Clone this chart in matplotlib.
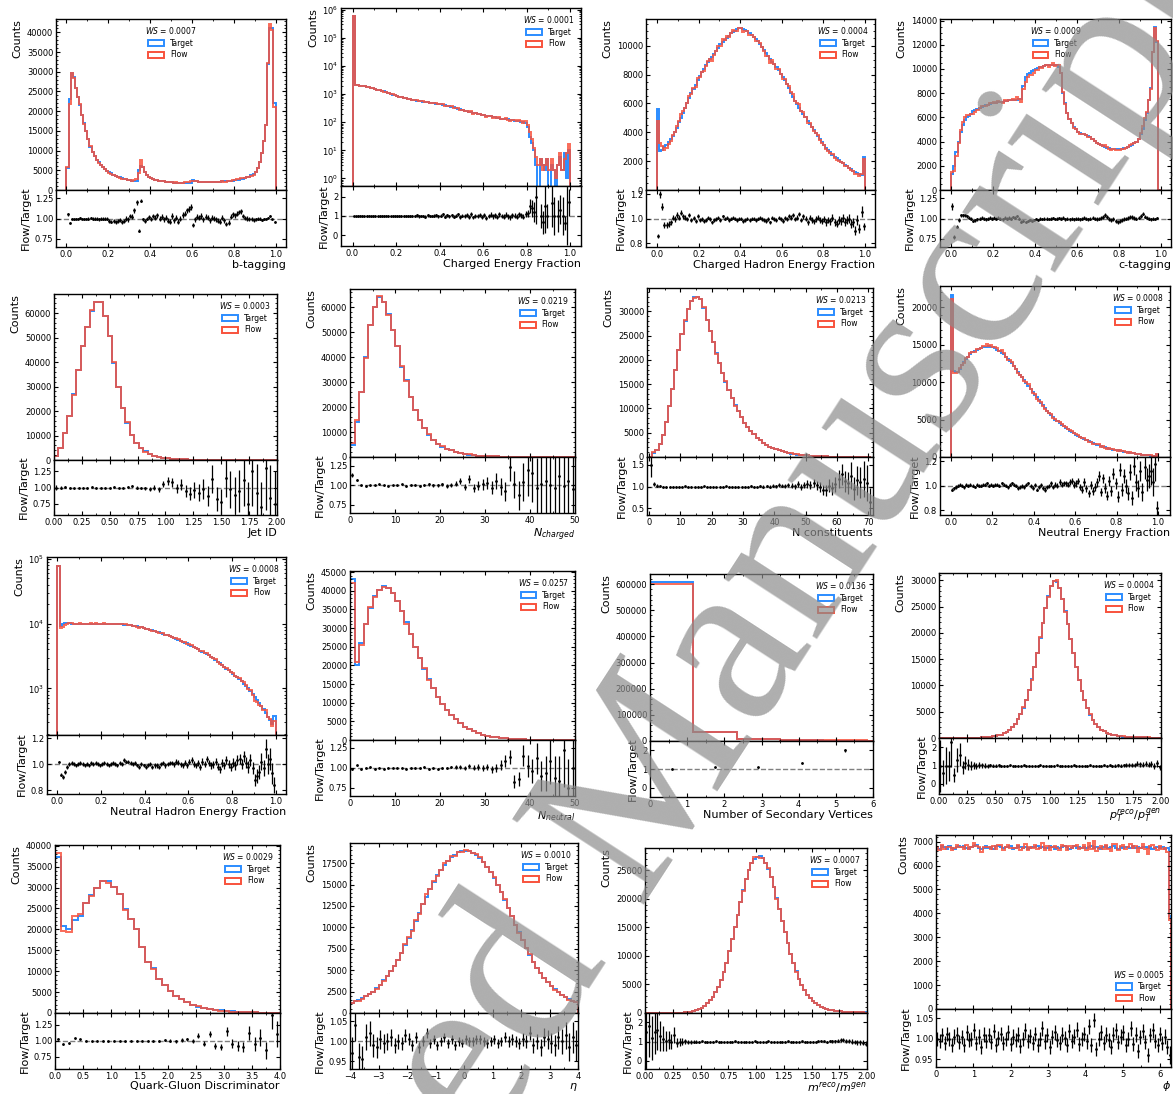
import numpy as np
import matplotlib
matplotlib.use('Agg')
import matplotlib.pyplot as plt
from matplotlib.patches import Patch
from matplotlib.ticker import MultipleLocator, FormatStrFormatter, AutoMinorLocator

W, H = 1173, 1094
BLUE = '#2b8cff'
RED = '#f8523c'

# ---------------- data ----------------
# b-tagging, counts in thousands
btag_target = [5.5, 23, 29.6, 28.8, 26, 23.5, 21.5, 19, 17, 15,
               13, 11, 9.7, 8.6, 7.7, 7.0, 6.3, 5.8, 5.3, 4.9,
               4.5, 4.2, 3.9, 3.6, 3.4, 3.2, 3.0, 2.8, 2.7, 2.55,
               2.45, 2.35, 2.3, 2.3, 5.0, 6.2, 5.8, 4.6, 3.8, 3.3,
               3.0, 2.8, 2.6, 2.5, 2.4, 2.3, 2.2, 2.1, 2.05, 2.0,
               1.95, 1.9, 1.9, 1.85, 1.85, 1.8, 1.8, 1.8, 1.85, 1.9,
               2.5, 2.4, 2.2, 2.1, 2.05, 2.0, 2.0, 2.0, 2.0, 2.05,
               2.05, 2.1, 2.1, 2.15, 2.2, 2.2, 2.25, 2.3, 2.35, 2.4,
               2.5, 2.55, 2.65, 2.75, 2.9, 3.0, 3.2, 3.4, 3.7, 4.0,
               4.6, 5.5, 7.0, 9.5, 12.5, 16.5, 32, 41, 41, 22]
btag_ratio = [105, 95, 100, 99, 100, 100, 101, 100, 99, 100,
              100, 101, 100, 100, 100, 99, 100, 100, 100, 100,
              97, 96, 97, 96, 97, 98, 96, 97, 100, 99,
              103, 102, 110, 120, 85, 122, 99, 97, 100, 102,
              99, 103, 101, 104, 100, 102, 99, 101, 97, 96,
              103, 98, 101, 96, 100, 104, 106, 110, 112, 114,
              92, 99, 102, 101, 103, 99, 102, 101, 98, 101,
              100, 99, 97, 96, 101, 98, 93, 95, 102, 105,
              104, 106, 108, 109, 103, 101, 100, 99, 99, 98,
              99, 100, 100, 98, 99, 100, 101, 103, 99, 96]

cef_target = [600000, 2100, 2050, 2000, 1950, 1900, 1850, 1780, 1700, 1620,
              1500, 1430, 1380, 1300, 1240, 1150, 1100, 1030, 960, 900,
              850, 800, 780, 740, 700, 680, 650, 630, 610, 590,
              580, 560, 540, 520, 510, 500, 480, 470, 450, 440,
              430, 410, 400, 380, 370, 360, 340, 320, 300, 290,
              275, 260, 250, 240, 225, 210, 215, 200, 190, 185,
              180, 170, 165, 160, 150, 150, 145, 140, 135, 130,
              130, 125, 120, 120, 115, 110, 108, 105, 100, 95,
              70, 30, 18, 10, 3, 0, 5, 3, 2, 5,
              0, 3, 2, 0, 3, 6, 2, 8, 1, 10]
cef_ratio = [100, 99, 100, 101, 100, 99, 100, 101, 99, 100,
             100, 98, 101, 100, 99, 102, 100, 98, 101, 99,
             100, 101, 99, 100, 102, 98, 101, 100, 99, 103,
             98, 100, 101, 97, 103, 100, 99, 102, 104, 98,
             101, 110, 96, 103, 99, 105, 97, 101, 108, 95,
             102, 99, 104, 96, 108, 93, 101, 99, 106, 97,
             104, 92, 100, 107, 98, 103, 95, 109, 100, 97,
             106, 99, 94, 104, 101, 97, 108, 103, 96, 112]
cef_flow_tail = [80, 45, 25, 12, 6, 3, 5, 2, 3, 5,
                 2, 5, 2, 1, 3, 8, 2, 5, 8, 17]

chef_target = [5600, 2700, 2800, 2950, 3100, 3300, 3500, 3750, 4000, 4300,
               4700, 5000, 5350, 5650, 6000, 6350, 6700, 7000, 7300, 7600,
               7900, 8150, 8400, 8650, 8850, 9050, 9250, 9450, 9650, 9850,
               10100, 10250, 10400, 10550, 10700, 10850, 10950, 11050, 11150, 11200,
               11200, 11150, 11100, 11000, 10850, 10750, 10600, 10450, 10300, 10100,
               9900, 9700, 9500, 9300, 9100, 8900, 8700, 8500, 8300, 8050,
               7850, 7600, 7350, 7050, 6750, 6450, 6200, 5950, 5700, 5500,
               5300, 5050, 4800, 4600, 4400, 4150, 3950, 3750, 3500, 3300,
               3100, 2900, 2750, 2600, 2450, 2300, 2200, 2050, 1950, 1850,
               1750, 1650, 1550, 1450, 1350, 1250, 1150, 1080, 1020, 2300]
chef_ratio = [86, 120, 110, 95, 95, 96, 97, 101, 100, 103,
              101, 105, 102, 101, 100, 103, 99, 101, 98, 102,
              99, 100, 98, 99, 101, 100, 97, 99, 100, 101,
              99, 102, 100, 101, 99, 100, 101, 100, 99, 100,
              100, 98, 99, 100, 99, 100, 100, 99, 100, 101,
              100, 99, 98, 100, 97, 101, 100, 99, 101, 100,
              98, 101, 100, 102, 101, 103, 100, 101, 104, 99,
              102, 100, 97, 101, 99, 98, 100, 101, 99, 98,
              100, 97, 99, 98, 101, 97, 96, 99, 98, 101,
              97, 99, 100, 96, 97, 90, 99, 92, 106, 94]

ctag_target = [1300, 2000, 3100, 4000, 4800, 5400, 5800, 6000, 6150, 6300,
               6500, 6600, 6700, 6800, 6850, 6900, 7000, 7050, 7100, 7150,
               7200, 7200, 7250, 7300, 7300, 7350, 7350, 7400, 7400, 7400,
               7400, 7450, 7500, 7550, 8600, 9300, 9600, 9700, 9800, 9900,
               10000, 10100, 10150, 10200, 10250, 10300, 10300, 10350, 10350, 10350,
               10300, 10200, 9700, 8000, 7200, 6400, 5900, 5500, 5200, 5000,
               4800, 4700, 4650, 4600, 4550, 4450, 4350, 4200, 4050, 3900,
               3800, 3700, 3600, 3550, 3500, 3450, 3400, 3400, 3400, 3400,
               3400, 3420, 3450, 3500, 3550, 3650, 3750, 3850, 4000, 4200,
               4600, 5000, 5800, 6400, 7400, 8400, 11400, 13500, 12200, 0]
ctag_ratio = [115, 77, 90, 98, 104, 104, 104, 103, 101, 100,
              97, 98, 99, 100, 101, 100, 99, 100, 101, 100,
              101, 100, 101, 100, 99, 101, 100, 101, 100, 102,
              101, 103, 100, 96, 97, 96, 97, 98, 97, 98,
              99, 98, 100, 99, 100, 100, 99, 100, 101, 99,
              100, 101, 100, 101, 99, 100, 99, 100, 99, 100,
              100, 99, 100, 101, 100, 99, 100, 101, 100, 99,
              100, 101, 102, 104, 102, 99, 98, 99, 97, 96,
              97, 98, 99, 100, 101, 102, 102, 101, 100, 101,
              103, 106, 102, 101, 100, 99, 100, 99, 101, 100]

jetid_target = [1600, 5000, 11000, 18000, 27000, 36800, 46400, 54300, 60700, 64400,
                64400, 59000, 50700, 39800, 29700, 21100, 15300, 10100, 7000, 4800,
                3500, 2500, 1800, 1300, 950, 700, 500, 380, 290, 220,
                170, 130, 100, 80, 65, 52, 42, 35, 28, 24,
                20, 17, 14, 12, 10, 9, 8, 7, 6, 5]
jetid_ratio = [100, 100, 101, 100, 99, 100, 100, 100, 101, 100,
               100, 100, 100, 101, 100, 100, 101, 102, 100, 99,
               99, 98, 100, 97, 105, 110, 108, 99, 104, 95,
               90, 96, 92, 97, 87, 113, 82, 78, 115, 97,
               88, 95, 112, 75, 125, 92, 70, 130, 84, 75]

nch_target = [5000, 14000, 26000, 40000, 53000, 60000, 64000, 62000, 57500, 51000,
              44500, 36000, 31000, 24000, 19000, 15000, 11500, 9000, 7000, 5300,
              4200, 3400, 2700, 2100, 1700, 1300, 1000, 780, 600, 470,
              360, 280, 210, 160, 120, 90, 65, 48, 35, 25,
              18, 13, 9, 7, 5, 4, 3, 2, 2, 1]
nch_ratio = [113, 107, 100, 99, 100, 100, 101, 100, 99, 100,
             100, 101, 99, 100, 100, 99, 100, 101, 100, 100,
             101, 99, 100, 102, 105, 98, 108, 96, 99, 101,
             103, 97, 105, 98, 92, 123, 101, 87, 104, 119,
             115, 97, 102, 105, 100, 97, 112, 99, 105, 95]

ncon_target = [50, 900, 1400, 2600, 4500, 7300, 10400, 14000, 18000, 22000,
               25300, 28000, 30500, 32200, 33000, 33000, 32500, 30600, 28300, 26000,
               23700, 21400, 19300, 17300, 15400, 13700, 12100, 10700, 9400, 8200,
               7100, 6200, 5400, 4650, 4000, 3450, 2950, 2500, 2150, 1850,
               1580, 1350, 1150, 980, 840, 710, 600, 510, 430, 365,
               310, 262, 222, 188, 160, 135, 114, 97, 82, 70,
               59, 50, 42, 36, 30, 26, 22, 18, 15, 13,
               11]
ncon_ratio = [150, 105, 102, 101, 100, 99, 100, 100, 100, 100,
              100, 101, 100, 100, 99, 100, 100, 101, 100, 100,
              100, 99, 100, 100, 101, 100, 100, 99, 100, 100,
              100, 100, 101, 100, 100, 101, 100, 101, 100, 102,
              101, 103, 102, 101, 104, 102, 101, 105, 99, 103,
              106, 104, 108, 103, 99, 93, 91, 102, 96, 105,
              118, 128, 112, 108, 125, 95, 114, 110, 118, 108,
              65]

nef_target = [21700, 11500, 11300, 11400, 11800, 12300, 12700, 13100, 13400, 13700,
              14000, 14200, 14300, 14450, 14550, 14650, 14700, 14750, 14800, 14750,
              14650, 14500, 14350, 14150, 13950, 13700, 13400, 13100, 12800, 12500,
              12100, 11750, 11400, 11000, 10650, 10300, 9900, 9500, 9100, 8700,
              8300, 7950, 7600, 7250, 6900, 6550, 6200, 5900, 5600, 5300,
              5000, 4750, 4500, 4300, 4100, 3900, 3700, 3500, 3350, 3150,
              3000, 2850, 2700, 2550, 2400, 2250, 2100, 1980, 1870, 1760,
              1650, 1550, 1450, 1370, 1280, 1200, 1130, 1060, 1000, 940,
              880, 820, 770, 720, 670, 620, 570, 520, 480, 440,
              400, 360, 320, 280, 250, 220, 190, 160, 130, 450]
nef_ratio = [97, 98, 99, 100, 101, 100, 99, 101, 100, 101,
             100, 99, 101, 100, 100, 101, 101, 102, 100, 101,
             100, 101, 101, 100, 102, 101, 100, 99, 101, 102,
             101, 100, 98, 99, 100, 99, 101, 102, 100, 98,
             101, 97, 99, 101, 98, 97, 99, 100, 102, 99,
             101, 100, 103, 101, 102, 102, 101, 103, 104, 101,
             102, 104, 99, 97, 103, 98, 94, 101, 96, 99,
             103, 108, 95, 106, 98, 92, 104, 96, 110, 102,
             91, 113, 97, 108, 100, 94, 111, 90, 116, 103,
             98, 112, 95, 115, 105, 108, 112, 103, 118, 82]

nhef_target = [77000, 9200, 10000, 10300, 10200, 10100, 10050, 10000, 10000, 10000,
               10000, 10000, 9950, 9950, 10000, 10000, 10050, 10050, 10000, 10050,
               10050, 10000, 10000, 10000, 9950, 9950, 9900, 9850, 9800, 9750,
               9700, 9600, 9500, 9400, 9300, 9200, 9050, 8900, 8750, 8600,
               8400, 8250, 8050, 7900, 7700, 7550, 7350, 7200, 7000, 6800,
               6600, 6400, 6200, 6000, 5850, 5650, 5450, 5300, 5100, 4950,
               4750, 4550, 4400, 4200, 4000, 3850, 3700, 3550, 3400, 3250,
               3070, 2900, 2750, 2600, 2450, 2300, 2150, 2000, 1900, 1800,
               1700, 1580, 1480, 1380, 1280, 1190, 1100, 1000, 920, 820,
               740, 670, 600, 530, 480, 420, 360, 320, 280, 370]
nhef_ratio = [102, 92, 90, 94, 98, 100, 101, 100, 99, 100,
              101, 100, 99, 100, 99, 101, 100, 101, 100, 99,
              100, 101, 100, 99, 100, 101, 100, 99, 101, 100,
              103, 102, 102, 101, 100, 101, 99, 98, 100, 99,
              98, 99, 100, 98, 99, 99, 98, 100, 101, 99,
              100, 101, 101, 100, 102, 101, 100, 99, 101, 99,
              102, 103, 100, 99, 101, 98, 102, 100, 104, 101,
              99, 100, 102, 98, 96, 101, 99, 103, 100, 98,
              101, 99, 103, 104, 100, 106, 101, 98, 103, 97,
              88, 91, 94, 102, 97, 112, 100, 104, 93, 84]

nneu_target = [43000, 20200, 26000, 31000, 35300, 38700, 40200, 41300, 40700, 39300,
               37200, 34500, 31500, 28300, 25000, 22000, 19000, 16300, 13800, 11600,
               9700, 8100, 6700, 5500, 4500, 3600, 2900, 2300, 1850, 1450,
               1150, 900, 700, 540, 420, 320, 250, 190, 145, 110,
               85, 65, 50, 38, 29, 22, 17, 13, 10, 7]
nneu_ratio = [98, 103, 98, 100, 101, 99, 100, 99, 100, 100,
              100, 100, 99, 100, 100, 100, 101, 99, 100, 99,
              100, 100, 101, 101, 101, 100, 102, 100, 101, 100,
              101, 98, 100, 104, 109, 113, 83, 86, 115, 102,
              96, 112, 90, 93, 108, 87, 84, 122, 75, 100]

nsv_target = [608000, 33000, 6000, 2500, 1000, 400]
nsv_ratio = [99, 110, 110, 135, 200, 250]

ptr_target = [1, 2, 2, 3, 4, 5, 7, 10, 14, 20,
              28, 38, 50, 65, 85, 110, 140, 180, 230, 300,
              350, 480, 650, 880, 1180, 1580, 2100, 2750, 3550, 4550,
              5800, 7300, 9100, 11200, 13600, 16200, 19000, 21900, 24700, 27100,
              29000, 29900, 29700, 28500, 26500, 24200, 21600, 18900, 16100, 13500,
              11100, 9000, 7200, 5700, 4450, 3450, 2650, 2050, 1600, 1250,
              980, 780, 620, 500, 410, 340, 285, 240, 205, 178,
              155, 137, 122, 110, 100, 92, 85, 79, 74, 70]
ptr_ratio = [100, 60, 100, 100, 230, 50, 130, 160, 90, 115,
             106, 100, 102, 99, 103, 101, 100, 99, 101, 100,
             100, 101, 99, 100, 100, 101, 100, 99, 100, 100,
             101, 100, 100, 99, 100, 100, 101, 100, 100, 99,
             100, 100, 101, 100, 100, 99, 100, 100, 101, 100,
             100, 99, 100, 100, 101, 100, 100, 99, 100, 101,
             100, 101, 99, 100, 101, 100, 102, 103, 104, 101,
             105, 110, 107, 104, 111, 106, 110, 100, 112, 90]

qg_target = [37200, 20800, 20200, 22300, 23200, 26300, 28300, 30000, 31500, 31500,
             30200, 28500, 24800, 22400, 20000, 15900, 12200, 10700, 8100, 6700,
             5200, 4100, 3300, 2600, 2000, 1550, 1200, 950, 750, 600,
             470, 370, 290, 230, 180, 140, 110, 90, 70, 55]
qg_ratio = [103, 94, 96, 104, 102, 100, 99, 100, 100, 99,
            100, 100, 99, 100, 100, 100, 100, 99, 100, 101,
            100, 99, 101, 102, 99, 108, 95, 110, 92, 90,
            115, 95, 92, 90, 112, 95, 105, 85, 140, 110]

eta_target = [1200, 1350, 1500, 1700, 1950, 2200, 2500, 2900, 3300, 3800,
              4300, 4900, 5500, 6200, 7000, 7900, 8800, 9700, 10700, 11700,
              12700, 13600, 14500, 15300, 16100, 16700, 17300, 17800, 18200, 18500,
              18750, 18900, 18950, 18900, 18700, 18450, 18100, 17650, 17100, 16450,
              15800, 15000, 14100, 13200, 12300, 11300, 10300, 9400, 8500, 7600,
              6800, 6000, 5300, 4700, 4100, 3600, 3150, 2750, 2400, 2100,
              1850, 1600, 1400, 1250]
eta_ratio = [970, 1040, 960, 955, 1010, 1020, 990, 985, 1005, 995,
             1000, 1010, 990, 1000, 995, 1015, 1005, 990, 1010, 985,
             1000, 1020, 995, 1005, 990, 1000, 1010, 995, 1005, 990,
             1000, 995, 1005, 1000, 1000, 1005, 1005, 1000, 995, 1000,
             1005, 995, 1000, 1010, 1000, 1005, 1000, 995, 1005, 1000,
             1020, 990, 1000, 985, 1010, 1005, 995, 990, 1010, 1000,
             1015, 985, 1010, 990]

mr_target = [1, 2, 2, 3, 4, 5, 6, 8, 10, 14,
             20, 30, 45, 70, 110, 170, 250, 360, 500, 700,
             950, 1280, 1700, 2200, 2800, 3600, 4600, 5800, 7200, 8800,
             10800, 12900, 15000, 17200, 19400, 21500, 23400, 25000, 26200, 27000,
             27400, 27500, 27100, 26300, 25200, 23800, 22100, 20200, 18200, 16100,
             14100, 12200, 10400, 8800, 7300, 6000, 4900, 4000, 3200, 2600,
             2100, 1700, 1350, 1100, 880, 720, 580, 470, 390, 320,
             270, 230, 200, 175, 155, 140, 125, 115, 105, 95]
mr_ratio = [150, 180, 120, 150, 160, 130, 115, 105, 110, 100,
            135, 95, 98, 100, 101, 100, 99, 100, 100, 100,
            101, 100, 99, 100, 100, 101, 100, 100, 99, 100,
            100, 100, 101, 100, 100, 99, 100, 100, 100, 101,
            100, 99, 100, 100, 101, 100, 100, 99, 100, 100,
            100, 101, 100, 100, 99, 100, 101, 100, 100, 99,
            100, 100, 101, 102, 101, 100, 102, 101, 103, 104,
            108, 110, 106, 104, 100, 98, 96, 97, 95, 90]

phi_target = [6780, 6700, 6820, 6760, 6690, 6800, 6740, 6710, 6790, 6830,
              6760, 6810, 6740, 6700, 6770, 6820, 6880, 6750, 6690, 6730,
              6800, 6720, 6760, 6700, 6810, 6840, 6770, 6730, 6790, 6760,
              6830, 6710, 6750, 6800, 6760, 6730, 6780, 6700, 6740, 6790,
              6760, 6810, 6730, 6770, 6720, 6750, 6800, 6760, 6710, 6780,
              6740, 6790, 6820, 6760, 6700, 6750, 6800, 6730, 6770, 6740,
              6780, 6720, 6760, 6810, 6740, 6790, 6750, 6700, 6770, 6800,
              6730, 6760, 6820, 6750, 6710, 6780, 6740, 6790, 6760, 6720,
              6800, 6750, 6770, 6730, 6790, 6760, 6740, 6780, 6710, 6750,
              6770, 6730, 6760, 6700, 6720, 3900]
phi_ratio = [1000, 995, 1008, 990, 1012, 998, 985, 1005, 1010, 992,
             1003, 985, 1015, 997, 1000, 1020, 990, 1005, 980, 1010,
             995, 1008, 992, 1018, 985, 1002, 1012, 990, 1000, 1015,
             988, 1005, 997, 1010, 982, 1000, 1020, 994, 1006, 990,
             1012, 985, 1000, 1025, 993, 1008, 980, 1003, 1015, 996,
             990, 1010, 1002, 985, 1018, 995, 1005, 1022, 988, 1000,
             1012, 993, 1030, 985, 1045, 975, 1000, 1015, 990, 1010,
             997, 980, 1010, 1020, 992, 1005, 1015, 985, 1000, 1025,
             988, 1010, 970, 1003, 1018, 992, 960, 1008, 1020, 995,
             985, 1012, 990, 1005, 980, 960]

ws_values = ['0.0007', '0.0001', '0.0004', '0.0009', '0.0003', '0.0219', '0.0213', '0.0008',
             '0.0008', '0.0257', '0.0136', '0.0004', '0.0029', '0.0010', '0.0007', '0.0005']
xlabels = ['b-tagging', 'Charged Energy Fraction', 'Charged Hadron Energy Fraction', 'c-tagging',
           'Jet ID', r'$N_{charged}$', 'N constituents', 'Neutral Energy Fraction',
           'Neutral Hadron Energy Fraction', r'$N_{neutral}$', 'Number of Secondary Vertices',
           r'$p_T^{reco}/p_T^{gen}$', 'Quark-Gluon Discriminator', r'$\eta$',
           r'$m^{reco}/m^{gen}$', r'$\phi$']

# ---------------- panel configuration (layout / style) ----------------
P = [
    dict(t=btag_target, tscale=1000, r=btag_ratio, rs=100, rng=(0, 1), rect=(56, 286, 19, 190, 247),
         xlim=(-0.05, 1.05), ylim=(0, 43400), ymaj=5000, xmaj=0.2, rylim=(0.648, 1.352),
         rt=[0.75, 1.0, 1.25], rf='%.2f', loc='upper center'),
    dict(t=cef_target, r=cef_ratio, rs=100, tail=cef_flow_tail, rng=(0, 1), rect=(341, 581, 8, 186, 246),
         xlim=(-0.053, 1.05), ylim=(0.54, 1.15e6), log=True, xmaj=0.2, rylim=(-0.54, 2.54),
         rt=[0, 1, 2], rf='%d', loc='upper right'),
    dict(t=chef_target, r=chef_ratio, rs=100, rng=(0, 1), rect=(646, 875, 19, 190, 247),
         xlim=(-0.054, 1.05), ylim=(0, 11850), ymaj=2000, xmaj=0.2, rylim=(0.768, 1.237),
         rt=[0.8, 1.0, 1.2], rf='%.1f', loc='upper right'),
    dict(t=ctag_target, r=ctag_ratio, rs=100, rng=(0, 1), rect=(940, 1171, 19, 190, 247),
         xlim=(-0.054, 1.05), ylim=(0, 14130), ymaj=2000, xmaj=0.2, rylim=(0.648, 1.352),
         rt=[0.75, 1.0, 1.25], rf='%.2f', loc='upper center'),
    dict(t=jetid_target, r=jetid_ratio, rs=100, rng=(0, 2), rect=(54, 277, 294, 460, 515),
         xlim=(0, 2), ylim=(0, 67800), ymaj=10000, xmaj=0.25, rylim=(0.572, 1.428),
         rt=[0.75, 1.0, 1.25], rf='%.2f', loc='upper right'),
    dict(t=nch_target, r=nch_ratio, rs=100, rng=(0, 50), rect=(350, 575, 289, 457, 513),
         xlim=(0, 50), ylim=(0, 67400), ymaj=10000, xmaj=10, rylim=(0.645, 1.36),
         rt=[0.75, 1.0, 1.25], rf='%.2f', loc='upper right'),
    dict(t=ncon_target, r=ncon_ratio, rs=100, rng=(0, 71), rect=(647, 873, 288, 457, 515),
         xlim=(-0.7, 71.5), ylim=(0, 34800), ymaj=5000, xmaj=10, rylim=(0.346, 1.677),
         rt=[0.5, 1.0, 1.5], rf='%.1f', loc='upper right'),
    dict(t=nef_target, r=nef_ratio, rs=100, rng=(0, 1), rect=(940, 1170, 286, 457, 515),
         xlim=(-0.052, 1.058), ylim=(0, 22840), ymaj=5000, xmaj=0.2, rylim=(0.763, 1.234),
         rt=[0.8, 1.0, 1.2], rf='%.1f', loc='upper right'),
    dict(t=nhef_target, r=nhef_ratio, rs=100, rng=(0, 1), rect=(47, 286, 557, 735, 794),
         xlim=(-0.048, 1.048), ylim=(191, 1.07e5), log=True, xmaj=0.2, rylim=(0.771, 1.224),
         rt=[0.8, 1.0, 1.2], rf='%.1f', loc='upper right'),
    dict(t=nneu_target, r=nneu_ratio, rs=100, rng=(0, 50), rect=(350, 575, 571, 740, 796),
         xlim=(0, 50), ylim=(0, 45270), ymaj=5000, xmaj=10, rylim=(0.65, 1.346),
         rt=[0.75, 1.0, 1.25], rf='%.2f', loc='upper right'),
    dict(t=nsv_target, r=nsv_ratio, rs=100, rng=(0, 7), rect=(650, 873, 574, 741, 797),
         xlim=(0, 6), ylim=(0, 638600), ymaj=100000, xmaj=1, rylim=(-0.5, 2.51),
         rt=[0, 1, 2], rf='%d', loc='upper right'),
    dict(t=ptr_target, r=ptr_ratio, rs=100, rng=(0, 2), rect=(939, 1161, 573, 738, 794),
         xlim=(0, 2), ylim=(0, 31400), ymaj=5000, xmaj=0.25, rylim=(-0.55, 2.51),
         rt=[0, 1, 2], rf='%d', loc='upper right'),
    dict(t=qg_target, r=qg_ratio, rs=100, rng=(0, 4), rect=(55, 280, 845, 1013, 1069),
         xlim=(0, 4), ylim=(0, 40170), ymaj=5000, xmaj=0.5, rylim=(0.553, 1.437),
         rt=[0.75, 1.0, 1.25], rf='%.2f', loc='upper right'),
    dict(t=eta_target, r=eta_ratio, rs=1000, rng=(-4, 4), rect=(350, 578, 843, 1013, 1069),
         xlim=(-4, 4), ylim=(0, 19850), ymaj=2500, xmaj=1, rylim=(0.931, 1.071),
         rt=[0.95, 1.0, 1.05], rf='%.2f', loc='upper right'),
    dict(t=mr_target, r=mr_ratio, rs=100, rng=(0, 2), rect=(645, 867, 848, 1013, 1069),
         xlim=(0, 2), ylim=(0, 28900), ymaj=5000, xmaj=0.25, rylim=(-0.42, 2.49),
         rt=[0, 1, 2], rf='%d', loc='upper right'),
    dict(t=phi_target, r=phi_ratio, rs=1000, rng=(0, 6.3), rect=(936, 1171, 835, 1009, 1067),
         xlim=(0, 6.3), ylim=(0, 7280), ymaj=1000, xmaj=1, rylim=(0.931, 1.072),
         rt=[0.95, 1.0, 1.05], rf='%.2f', loc='lower right'),
]

fig = plt.figure(figsize=(W / 100, H / 100), dpi=100)


def style_axes(a):
    a.tick_params(direction='in', which='both', top=True, right=True, labelsize=6,
                  length=3, width=0.8, pad=2)
    a.tick_params(which='minor', length=1.6, width=0.6)
    for s in a.spines.values():
        s.set_linewidth(1.0)


for i, p in enumerate(P):
    l, r, t, mb, rb = p['rect']
    ax = fig.add_axes([l / W, 1 - mb / H, (r - l) / W, (mb - t) / H])
    axr = fig.add_axes([l / W, 1 - rb / H, (r - l) / W, (rb - mb) / H], sharex=ax)

    tgt = np.asarray(p['t'], float) * p.get('tscale', 1)
    rat = np.asarray(p['r'], float) / p['rs']
    flow = tgt[:len(rat)] * rat
    if 'tail' in p:
        flow = np.concatenate([flow, np.asarray(p['tail'], float)])
    edges = np.linspace(p['rng'][0], p['rng'][1], len(tgt) + 1)
    centers = 0.5 * (edges[:-1] + edges[1:])

    log = p.get('log', False)
    if log:
        ax.set_yscale('log')
        base = p['ylim'][0] * 1e-3
        tdraw = np.where(tgt > 0, tgt, base)
        fdraw = np.where(flow > 0, flow, base)
    else:
        base = 0
        tdraw, fdraw = tgt, flow
    ax.stairs(tdraw, edges, baseline=base, color=BLUE, lw=1.4)
    ax.stairs(fdraw, edges, baseline=base, color=RED, lw=1.4, alpha=0.85)

    ax.set_xlim(*p['xlim'])
    ax.set_ylim(*p['ylim'])
    if not log:
        ax.yaxis.set_major_locator(MultipleLocator(p['ymaj']))
        ax.yaxis.set_minor_locator(AutoMinorLocator())
    ax.xaxis.set_major_locator(MultipleLocator(p['xmaj']))
    ax.xaxis.set_minor_locator(AutoMinorLocator(2))
    style_axes(ax)
    ax.tick_params(labelbottom=False)
    ax.set_ylabel('Counts', loc='top', fontsize=8, labelpad=3)

    handles = [Patch(facecolor='none', edgecolor=BLUE, lw=1.4, label='Target'),
               Patch(facecolor='none', edgecolor=RED, lw=1.4, label='Flow')]
    ax.legend(handles=handles, title=r'$WS$ = ' + ws_values[i], loc=p['loc'], frameon=False,
              fontsize=5.5, title_fontsize=5.5, handlelength=2.0, handleheight=0.9,
              labelspacing=0.35, borderaxespad=0.4, handletextpad=0.8)

    # ratio panel
    m = (tgt > 0) & (flow > 0)
    rr = flow[m] / tgt[m]
    err = rr * np.sqrt(1.0 / tgt[m] + 1.0 / flow[m])
    axr.axhline(1.0, color='gray', ls='--', lw=1.0, zorder=1)
    axr.errorbar(centers[m], rr, yerr=err, fmt='.', color='k', ms=2.0,
                 elinewidth=0.9, capsize=0, zorder=3)
    axr.set_ylim(*p['rylim'])
    axr.set_yticks(p['rt'])
    axr.yaxis.set_major_formatter(FormatStrFormatter(p['rf']))
    style_axes(axr)
    axr.set_ylabel('Flow/Target', fontsize=8, labelpad=3)
    axr.set_xlabel(xlabels[i], loc='right', fontsize=8, labelpad=0 if i >= 12 else 1)

# watermark
fig.text(675 / W, 1 - 857 / H, 'Accepted Manuscript', rotation=57, rotation_mode='anchor',
         ha='center', va='baseline', fontsize=172, family='Liberation Serif',
         color='#8c8c8c', alpha=0.7, zorder=100)

fig.savefig('out.png', dpi=100)
